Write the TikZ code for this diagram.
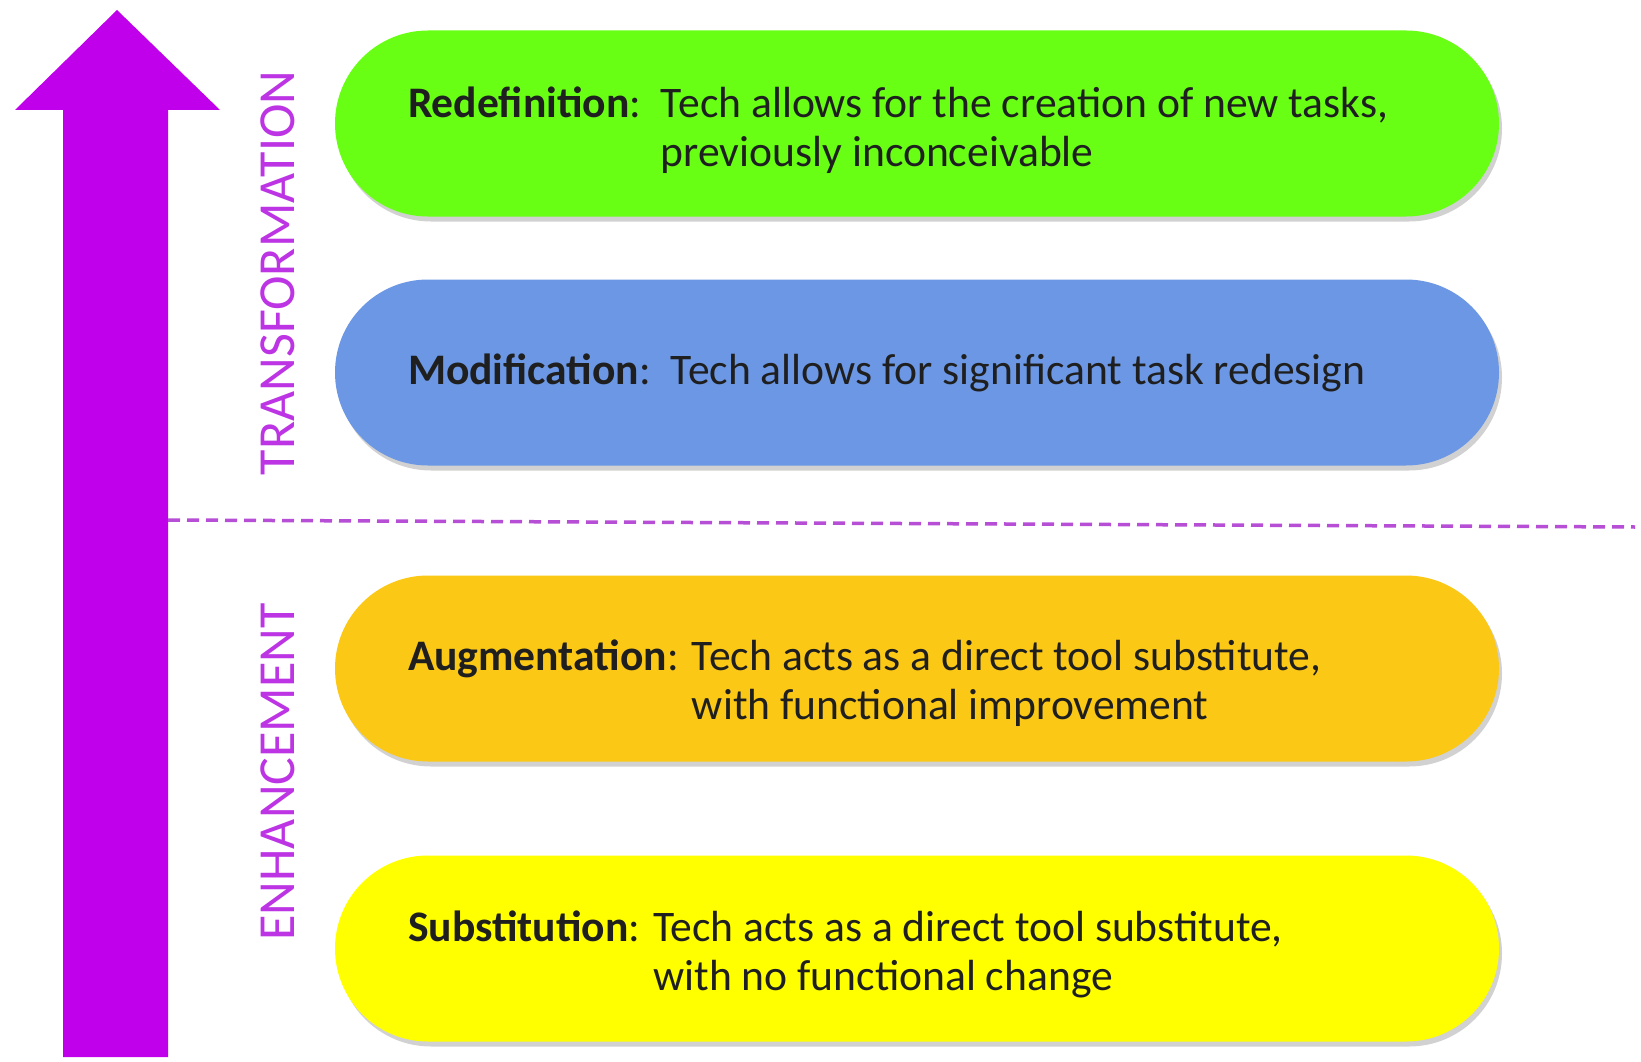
\documentclass[tikz,border=0pt]{standalone}
\usepackage{fontspec}
\setmainfont{Carlito}
\usepackage{tikz}
\usetikzlibrary{shapes.misc}
\usetikzlibrary{shadows}
\usetikzlibrary{calc}

\definecolor{samrpurple}{RGB}{192,0,234}
\definecolor{samrlabel}{RGB}{188,52,228}
\definecolor{samrdash}{RGB}{182,78,214}
\definecolor{redefgreen}{RGB}{104,255,20}
\definecolor{modifblue}{RGB}{107,151,228}
\definecolor{augmorange}{RGB}{251,200,22}
\definecolor{substyellow}{RGB}{255,255,0}

\tikzset{
  pill/.style={rounded rectangle, inner sep=0pt, minimum width=1164pt,
    minimum height=186pt,
    drop shadow={shadow xshift=3pt, shadow yshift=-5pt, fill=black, opacity=0.18}},
  pilltext/.style={anchor=west, inner sep=0pt, text=black!88,
    font=\fontsize{43.6}{49}\selectfont},
  sidelabel/.style={rotate=90, text=samrlabel, inner sep=0pt,
    font=\fontsize{52}{56}\selectfont},
  sepline/.style={samrdash, line width=3.5pt, dash pattern=on 12pt off 7pt}
}

\begin{document}
\begin{tikzpicture}[x=1pt, y=-1pt]
  \useasboundingbox (0,0) rectangle (1641,1062);
  \fill[white] (0,0) rectangle (1641,1062);

  % Flecha
  \fill[samrpurple] (63,1057) -- (63,110) -- (15,110) -- (117,10)
    -- (220,110) -- (168,110) -- (168,1057) -- cycle;

  % Separador
  \coordinate (sepL) at (168,520);
  \coordinate (sepR) at (1635,527);
  \draw[sepline] (sepL) -- (sepR);

  % Etiquetas laterales
  \node[sidelabel] (transf) at (278,273) {TRANSFORMATION};
  \node[sidelabel] (enhanc) at (278,772) {ENHANCEMENT};

  % Niveles
  \node[pill, fill=redefgreen] (redef) at (917,123.5) {};
  \node[pill, fill=modifblue] (modif) at (917,372.5) {};
  \node[pill, fill=augmorange] (augm) at (917,668.5) {};
  \node[pill, fill=substyellow] (subst) at (917,948.5) {};

  \node[pilltext] (redeftxt) at ([xshift=73pt,yshift=-9pt]redef.west)
    {\textbf{Redefinition}:\ \ \begin{tabular}[t]{@{}l@{}}Tech allows for the creation of new tasks,\\previously inconceivable\end{tabular}};
  \node[pilltext] (modiftxt) at ([xshift=73pt]modif.west)
    {\textbf{Modification}:\ \ Tech allows for significant task redesign};
  \node[pilltext] (augmtxt) at ([xshift=73pt,yshift=-17pt]augm.west)
    {\textbf{Augmentation}: \begin{tabular}[t]{@{}l@{}}Tech acts as a direct tool substitute,\\with functional improvement\end{tabular}};
  \node[pilltext] (substtxt) at ([xshift=73pt,yshift=-8pt]subst.west)
    {\textbf{Substitution}: \begin{tabular}[t]{@{}l@{}}Tech acts as a direct tool substitute,\\with no functional change\end{tabular}};

\end{tikzpicture}
\end{document}
